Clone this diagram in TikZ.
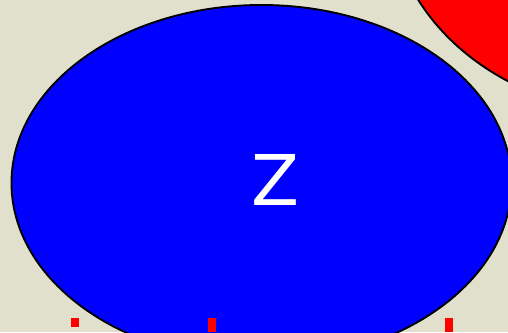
\documentclass[tikz,border=0pt]{standalone}
\usepackage{fontspec}
\setmainfont{DejaVu Sans}
\usetikzlibrary{positioning}
\definecolor{bgpaper}{RGB}{224,224,205}
\tikzset{
  blob/.style={line width=1.9pt, draw=black},
  tick/.style={fill=red, draw=none},
  bigletter/.style={text=white, font=\fontsize{70}{70}\selectfont, inner sep=0pt, anchor=base},
}

\begin{document}
\begin{tikzpicture}[x=1pt, y=-1pt]
    \useasboundingbox (0,0) rectangle (508,332);
    \fill[bgpaper] (0,0) rectangle (508,332);
    \begin{scope}
      \clip (0,0) rectangle (508,332);
      % red blob, top right corner
      \draw[blob, fill=red] (640,-100) ellipse [x radius=251, y radius=213];
      % blue blob
      \draw[blob, fill=blue] (261.5,183) ellipse [x radius=250, y radius=178];
    \end{scope}
    \node[bigletter] (z) at (275.5,205.5) {Z};
    % red marks along the bottom edge
    \fill[tick] (71,318) rectangle (78.5,326.5);
    \fill[tick] (208,318) rectangle (216,332);
    \fill[tick] (445,318) rectangle (453,332);
\end{tikzpicture}
\end{document}
